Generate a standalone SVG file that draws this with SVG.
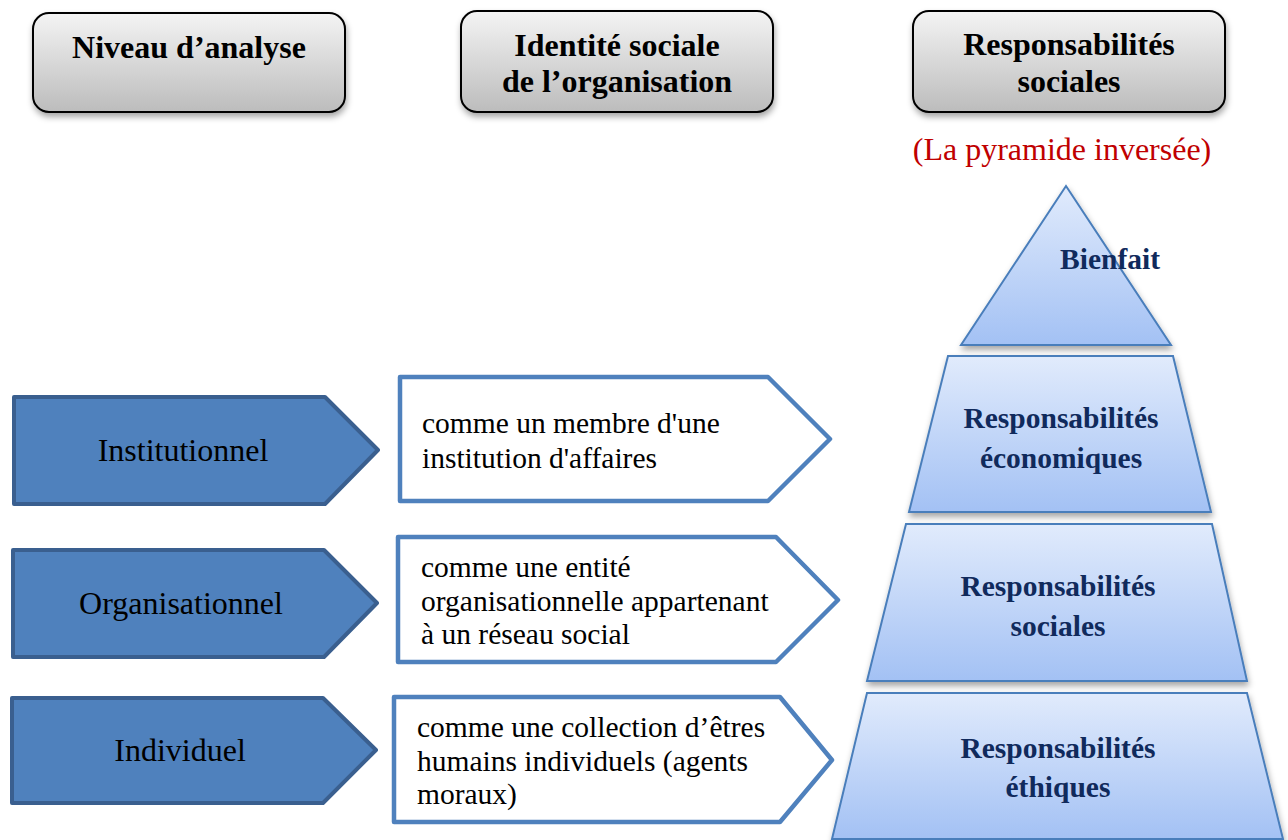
<svg xmlns="http://www.w3.org/2000/svg" width="1288" height="840" viewBox="0 0 1288 840">
<defs>
<linearGradient id="gGray" x1="0" y1="0" x2="0" y2="1">
<stop offset="0" stop-color="#f4f4f4"/>
<stop offset="1" stop-color="#bcbcbc"/>
</linearGradient>
<linearGradient id="gBlue" x1="0" y1="0" x2="0" y2="1">
<stop offset="0" stop-color="#e1ebfc"/>
<stop offset="1" stop-color="#a3c1f4"/>
</linearGradient>
<filter id="sh" x="-10%" y="-10%" width="120%" height="130%">
<feDropShadow dx="1" dy="4" stdDeviation="3" flood-color="#000" flood-opacity="0.35"/>
</filter>
</defs>
<style>
text{font-family:'Liberation Serif','DejaVu Serif',serif}
.hdr{fill:url(#gGray);stroke:#000;stroke-width:2;filter:url(#sh)}
.ht{font-weight:bold;font-size:32px;fill:#000;text-anchor:middle}
.lvl{fill:#4f81bd;stroke:#3a5f8f;stroke-width:4;stroke-linejoin:round}
.lt{font-size:32px;fill:#000;text-anchor:middle}
.idb{fill:#fff;stroke:#4f81bd;stroke-width:4.5;stroke-linejoin:round}
.it{font-size:29.5px;fill:#000}
.pyr{fill:url(#gBlue);stroke:#4a7ebb;stroke-width:2;filter:url(#sh)}
.pt{font-weight:bold;font-size:29.5px;fill:#102a5c;text-anchor:middle}
.red{font-size:32px;fill:#c00000;text-anchor:middle}
</style>
<rect width="1288" height="840" fill="#fff"/>

<g id="hdr-niveau">
<rect class="hdr" x="33" y="13" width="312" height="99" rx="16"/>
<text class="ht" x="189" y="58">Niveau d’analyse</text>
</g>
<g id="hdr-identite">
<rect class="hdr" x="461" y="11" width="312" height="101" rx="16"/>
<text class="ht" x="617" y="56">Identité sociale</text>
<text class="ht" x="617" y="92">de l’organisation</text>
</g>
<g id="hdr-resp">
<rect class="hdr" x="913" y="11" width="312" height="101" rx="16"/>
<text class="ht" x="1069" y="55">Responsabilités</text>
<text class="ht" x="1069" y="92">sociales</text>
</g>
<g id="subtitle">
<text class="red" x="1062" y="160">(La pyramide inversée)</text>
</g>

<g id="lvl-institutionnel">
<path class="lvl" d="M14,397 L325,397 L378,450 L325,504 L14,504 Z"/>
<text class="lt" x="183" y="461">Institutionnel</text>
</g>
<g id="lvl-organisationnel">
<path class="lvl" d="M13,550 L324,550 L377,603 L324,657 L13,657 Z"/>
<text class="lt" x="181" y="614">Organisationnel</text>
</g>
<g id="lvl-individuel">
<path class="lvl" d="M12,698 L323,698 L376,750 L323,803 L12,803 Z"/>
<text class="lt" x="180" y="761">Individuel</text>
</g>

<g id="id-institution">
<path class="idb" d="M400,377 L768,377 L830,439 L768,501 L400,501 Z"/>
<text class="it" x="422" y="433">comme un membre d'une</text>
<text class="it" x="422" y="468">institution d'affaires</text>
</g>
<g id="id-entite">
<path class="idb" d="M398,537 L776,537 L838,600 L776,662 L398,662 Z"/>
<text class="it" x="421" y="577">comme une entité</text>
<text class="it" x="421" y="611">organisationnelle appartenant</text>
<text class="it" x="421" y="644">à un réseau social</text>
</g>
<g id="id-collection">
<path class="idb" d="M394,697 L780,697 L832,760 L780,822 L394,822 Z"/>
<text class="it" x="417" y="737">comme une collection d’êtres</text>
<text class="it" x="417" y="771">humains individuels (agents</text>
<text class="it" x="417" y="804">moraux)</text>
</g>

<g id="pyr-bienfait">
<path class="pyr" d="M1066,186 L1171,345 L961,345 Z"/>
<text class="pt" x="1110" y="269">Bienfait</text>
</g>
<g id="pyr-economiques">
<path class="pyr" d="M948,356 L1173,356 L1211,512 L909,512 Z"/>
<text class="pt" x="1061" y="428">Responsabilités</text>
<text class="pt" x="1061" y="468">économiques</text>
</g>
<g id="pyr-sociales">
<path class="pyr" d="M906,524 L1212,524 L1247,681 L867,681 Z"/>
<text class="pt" x="1058" y="596">Responsabilités</text>
<text class="pt" x="1058" y="636">sociales</text>
</g>
<g id="pyr-ethiques">
<path class="pyr" d="M867,693 L1247,693 L1283,839 L832,839 Z"/>
<text class="pt" x="1058" y="758">Responsabilités</text>
<text class="pt" x="1058" y="797">éthiques</text>
</g>
<g id="connectors"></g>
</svg>
